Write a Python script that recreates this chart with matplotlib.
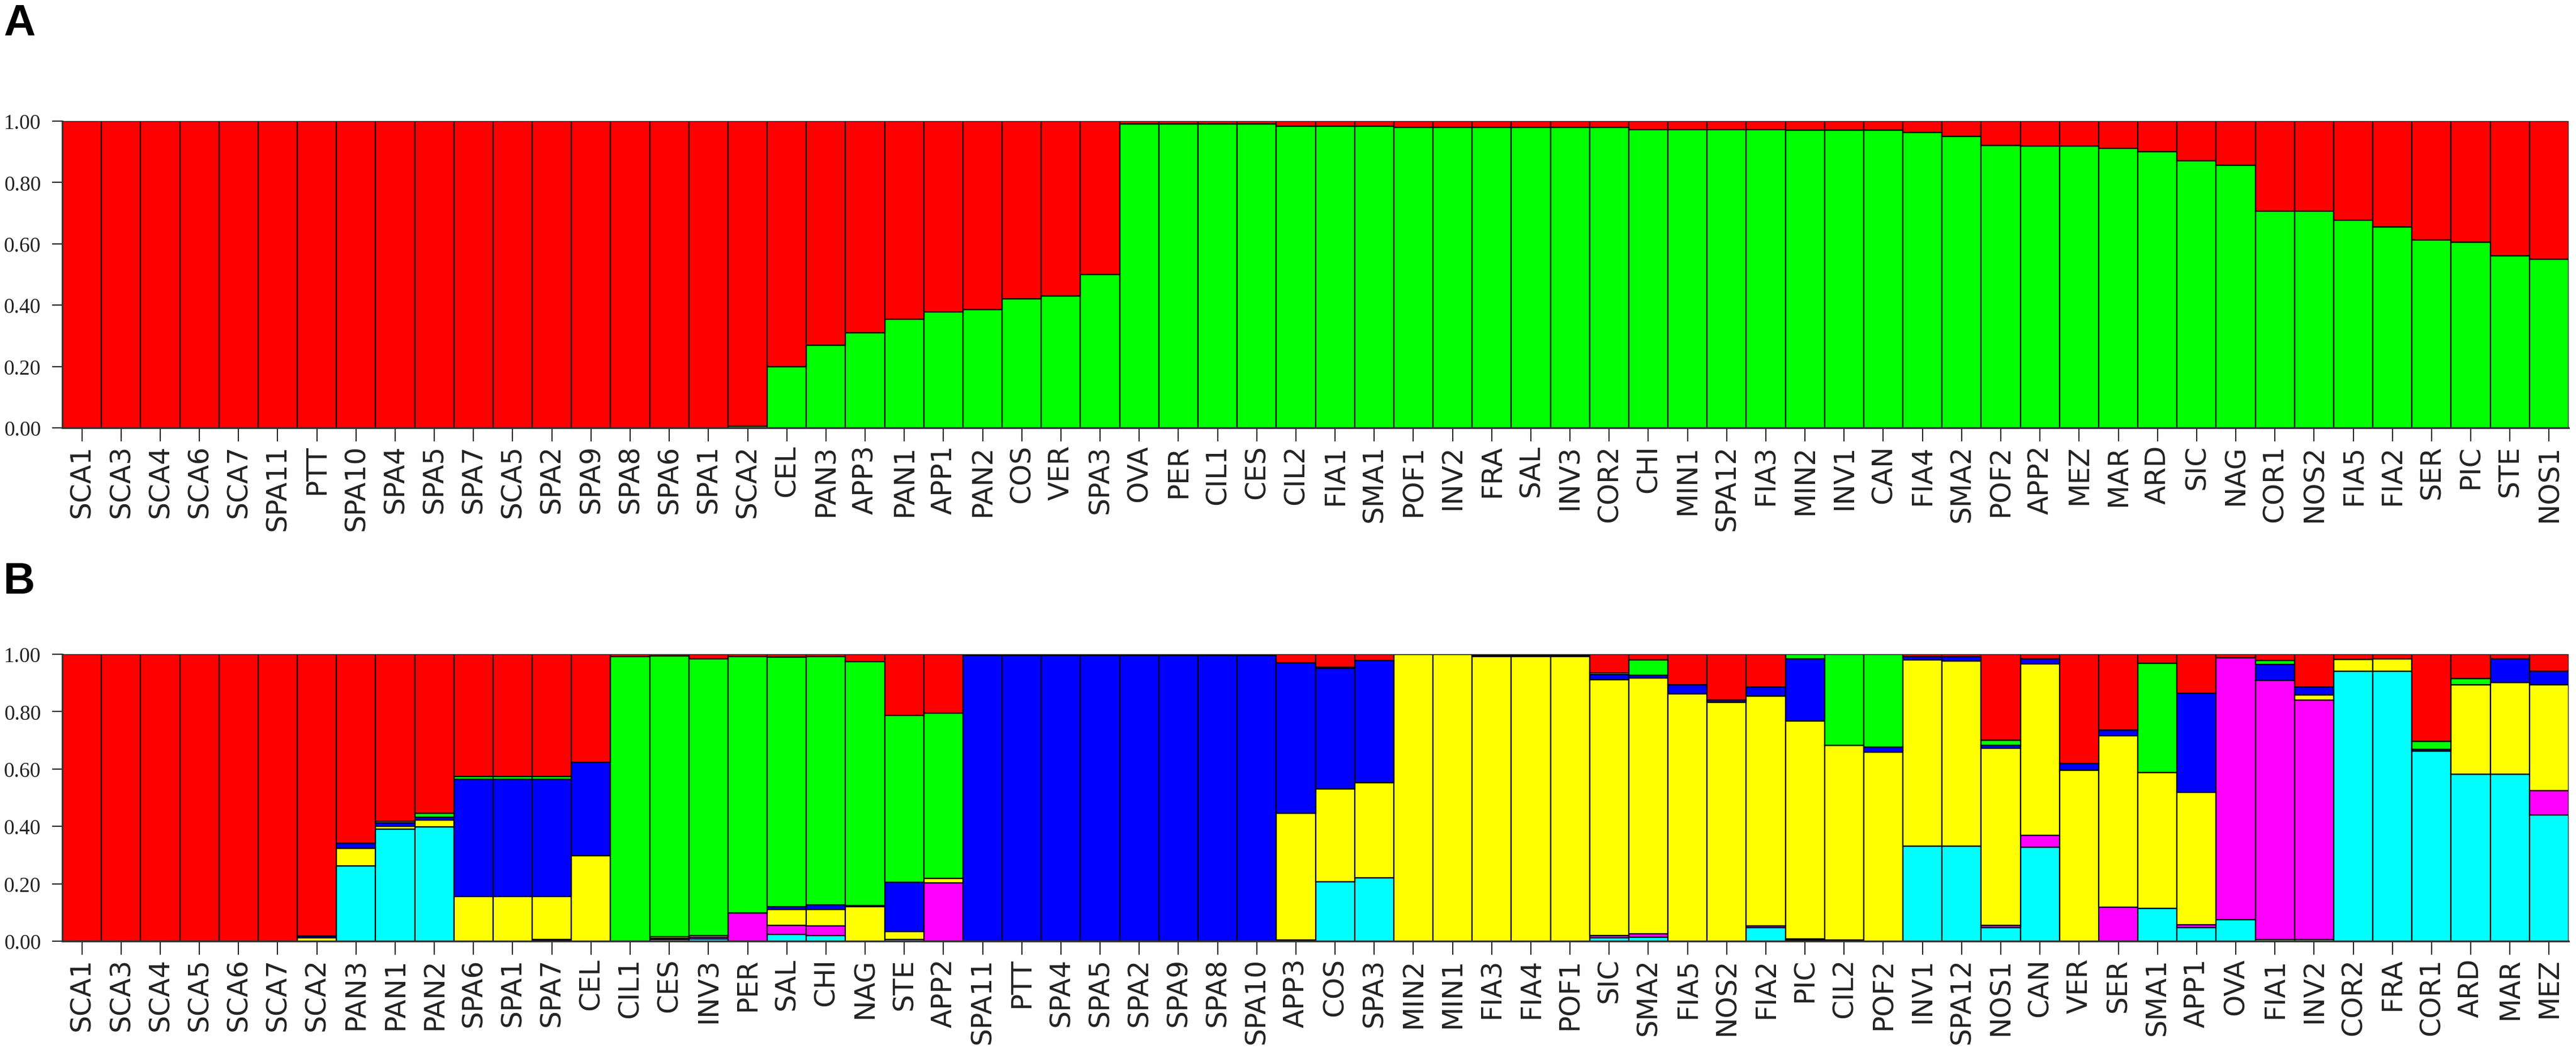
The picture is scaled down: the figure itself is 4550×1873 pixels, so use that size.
import matplotlib
matplotlib.use("Agg")
import matplotlib.pyplot as plt
import numpy as np

# ---- Panel A: K=2 membership (green bottom, red top) ----
labels_a = [
    "SCA1", "SCA3", "SCA4", "SCA6", "SCA7", "SPA11", "PTT", "SPA10", "SPA4",
    "SPA5", "SPA7", "SCA5", "SPA2", "SPA9", "SPA8", "SPA6", "SPA1", "SCA2",
    "CEL", "PAN3", "APP3", "PAN1", "APP1", "PAN2", "COS", "VER", "SPA3",
    "OVA", "PER", "CIL1", "CES", "CIL2", "FIA1", "SMA1", "POF1", "INV2",
    "FRA", "SAL", "INV3", "COR2", "CHI", "MIN1", "SPA12", "FIA3", "MIN2",
    "INV1", "CAN", "FIA4", "SMA2", "POF2", "APP2", "MEZ", "MAR", "ARD",
    "SIC", "NAG", "COR1", "NOS2", "FIA5", "FIA2", "SER", "PIC", "STE", "NOS1",
]
green_a = [
    0, 0, 0, 0, 0, 0, 0, 0, 0,
    0, 0, 0, 0, 0, 0, 0, 0, 0.006,
    0.20, 0.27, 0.31, 0.355, 0.378, 0.385, 0.42, 0.43, 0.50,
    0.99, 0.99, 0.99, 0.99, 0.984, 0.984, 0.984, 0.98, 0.98,
    0.98, 0.98, 0.98, 0.98, 0.973, 0.973, 0.973, 0.972, 0.971,
    0.971, 0.971, 0.964, 0.95, 0.92, 0.918, 0.918, 0.911, 0.90,
    0.87, 0.857, 0.706, 0.706, 0.678, 0.655, 0.612, 0.606, 0.56, 0.549,
]
red_a = [
    1, 1, 1, 1, 1, 1, 1, 1, 1,
    1, 1, 1, 1, 1, 1, 1, 1, 0.994,
    0.80, 0.73, 0.69, 0.645, 0.622, 0.615, 0.58, 0.57, 0.50,
    0.01, 0.01, 0.01, 0.01, 0.016, 0.016, 0.016, 0.02, 0.02,
    0.02, 0.02, 0.02, 0.02, 0.027, 0.027, 0.027, 0.028, 0.029,
    0.029, 0.029, 0.036, 0.05, 0.08, 0.082, 0.082, 0.089, 0.10,
    0.13, 0.143, 0.294, 0.294, 0.322, 0.345, 0.388, 0.394, 0.44, 0.451,
]

# ---- Panel B: K=6 membership, stacked bottom -> top ----
labels_b = [
    "SCA1", "SCA3", "SCA4", "SCA5", "SCA6", "SCA7", "SCA2", "PAN3", "PAN1",
    "PAN2", "SPA6", "SPA1", "SPA7", "CEL", "CIL1", "CES", "INV3", "PER",
    "SAL", "CHI", "NAG", "STE", "APP2", "SPA11", "PTT", "SPA4", "SPA5",
    "SPA2", "SPA9", "SPA8", "SPA10", "APP3", "COS", "SPA3", "MIN2", "MIN1",
    "FIA3", "FIA4", "POF1", "SIC", "SMA2", "FIA5", "NOS2", "FIA2", "PIC",
    "CIL2", "POF2", "INV1", "SPA12", "NOS1", "CAN", "VER", "SER", "SMA1",
    "APP1", "OVA", "FIA1", "INV2", "COR2", "FRA", "COR1", "ARD", "MAR", "MEZ",
]
cyan_b = [
    0, 0, 0, 0, 0, 0, 0, 0.263, 0.391,
    0.398, 0, 0, 0.003, 0, 0, 0.005, 0.007, 0,
    0.024, 0.020, 0, 0.005, 0, 0, 0, 0, 0,
    0, 0, 0, 0, 0.003, 0.207, 0.221, 0, 0,
    0, 0, 0, 0.012, 0.014, 0, 0, 0.048, 0.004,
    0.003, 0, 0.331, 0.331, 0.048, 0.328, 0, 0, 0.114,
    0.048, 0.075, 0.005, 0.005, 0.940, 0.940, 0.662, 0.581, 0.581, 0.439,
]
magenta_b = [
    0, 0, 0, 0, 0, 0, 0, 0, 0,
    0, 0, 0, 0.002, 0, 0, 0.005, 0.006, 0.099,
    0.031, 0.033, 0, 0, 0.203, 0, 0, 0, 0,
    0, 0, 0, 0, 0, 0, 0, 0, 0,
    0, 0, 0, 0.008, 0.012, 0, 0, 0.006, 0.004,
    0, 0, 0, 0, 0.007, 0.041, 0, 0.118, 0,
    0.010, 0.913, 0.904, 0.836, 0, 0, 0, 0, 0, 0.086,
]
yellow_b = [
    0, 0, 0, 0, 0, 0, 0.012, 0.061, 0.010,
    0.025, 0.155, 0.155, 0.150, 0.297, 0, 0.005, 0.007, 0,
    0.056, 0.058, 0.121, 0.029, 0.015, 0, 0, 0, 0,
    0, 0, 0, 0, 0.442, 0.323, 0.331, 1.0, 1.0,
    0.993, 0.993, 0.993, 0.892, 0.891, 0.861, 0.833, 0.800, 0.760,
    0.679, 0.659, 0.649, 0.646, 0.617, 0.598, 0.596, 0.598, 0.474,
    0.460, 0, 0, 0.017, 0.042, 0.045, 0, 0.313, 0.321, 0.369,
]
blue_b = [
    0, 0, 0, 0, 0, 0, 0.006, 0.018, 0.012,
    0.008, 0.410, 0.410, 0.410, 0.326, 0, 0, 0, 0,
    0.010, 0.015, 0.004, 0.172, 0, 0.997, 0.997, 0.997, 0.997,
    0.997, 0.997, 0.997, 0.997, 0.526, 0.420, 0.426, 0, 0,
    0.004, 0.004, 0.004, 0.017, 0.010, 0.032, 0.007, 0.031, 0.217,
    0, 0.017, 0.012, 0.015, 0.010, 0.017, 0.024, 0.019, 0,
    0.345, 0, 0.055, 0.027, 0, 0, 0.006, 0, 0.082, 0.046,
]
green_b = [
    0, 0, 0, 0, 0, 0, 0, 0, 0.005,
    0.015, 0.008, 0.008, 0.008, 0, 0.993, 0.980, 0.965, 0.893,
    0.870, 0.866, 0.849, 0.581, 0.577, 0, 0, 0, 0,
    0, 0, 0, 0, 0, 0.005, 0, 0, 0,
    0, 0, 0, 0.005, 0.053, 0, 0, 0, 0.015,
    0.318, 0.324, 0, 0, 0.018, 0, 0, 0, 0.381,
    0, 0, 0.015, 0, 0, 0, 0.028, 0.022, 0, 0,
]
red_b = [
    1, 1, 1, 1, 1, 1, 0.982, 0.658, 0.582,
    0.554, 0.427, 0.427, 0.427, 0.377, 0.007, 0.005, 0.015, 0.008,
    0.009, 0.008, 0.026, 0.213, 0.205, 0.003, 0.003, 0.003, 0.003,
    0.003, 0.003, 0.003, 0.003, 0.029, 0.045, 0.022, 0, 0,
    0.003, 0.003, 0.003, 0.066, 0.020, 0.107, 0.160, 0.115, 0,
    0, 0, 0.008, 0.008, 0.300, 0.016, 0.380, 0.265, 0.031,
    0.137, 0.012, 0.021, 0.115, 0.018, 0.015, 0.304, 0.084, 0.016, 0.060,
]

RED, GREEN, BLUE = "#FF0000", "#00FF00", "#0000FF"
YELLOW, MAGENTA, CYAN = "#FFFF00", "#FF00FF", "#00FFFF"

W, H = 4550, 1874
fig = plt.figure(figsize=(W / 100, H / 100), dpi=100)


def stacked(ax, labels, layers):
    x = np.arange(len(labels))
    bottom = np.zeros(len(labels))
    for vals, color in layers:
        vals = np.asarray(vals, dtype=float)
        ax.bar(x, vals, bottom=bottom, width=1.0, color=color,
               edgecolor="black", linewidth=1.6, align="center")
        bottom += vals
    ax.set_xlim(-0.5, len(labels) - 0.5)
    ax.set_ylim(0, 1.0)
    ax.set_xticks(x)
    ax.set_xticklabels(labels, rotation=90, fontsize=35,
                       family="DejaVu Sans", color="#222222")
    ax.set_yticks([0, 0.2, 0.4, 0.6, 0.8, 1.0])
    ax.set_yticklabels(["0.00", "0.20", "0.40", "0.60", "0.80", "1.00"],
                       fontsize=27, family="Liberation Serif", color="#222222")
    ax.tick_params(axis="x", length=17, width=1.5, pad=4, color="#222222")
    ax.tick_params(axis="y", length=13, width=1.5, pad=14, color="#222222")
    for side in ("top", "right"):
        ax.spines[side].set_visible(False)
    for side in ("left", "bottom"):
        ax.spines[side].set_linewidth(2.2)
        ax.spines[side].set_color("#333333")
    ax.margins(x=0, y=0)


ax_a = fig.add_axes([110 / W, 1 - 757 / H, (4537 - 110) / W, 542 / H])
stacked(ax_a, labels_a, [(green_a, GREEN), (red_a, RED)])

ax_b = fig.add_axes([110 / W, 1 - 1664 / H, (4537 - 110) / W, 507 / H])
stacked(ax_b, labels_b, [
    (cyan_b, CYAN), (magenta_b, MAGENTA), (yellow_b, YELLOW),
    (blue_b, BLUE), (green_b, GREEN), (red_b, RED),
])

fig.text(6 / W, 1 - 6 / H, "A", fontsize=56, fontweight="bold",
         family="Liberation Sans", va="top", ha="left")
fig.text(6 / W, 1 - 992 / H, "B", fontsize=56, fontweight="bold",
         family="Liberation Sans", va="top", ha="left")

fig.savefig("out.png", dpi=100, facecolor="white")
